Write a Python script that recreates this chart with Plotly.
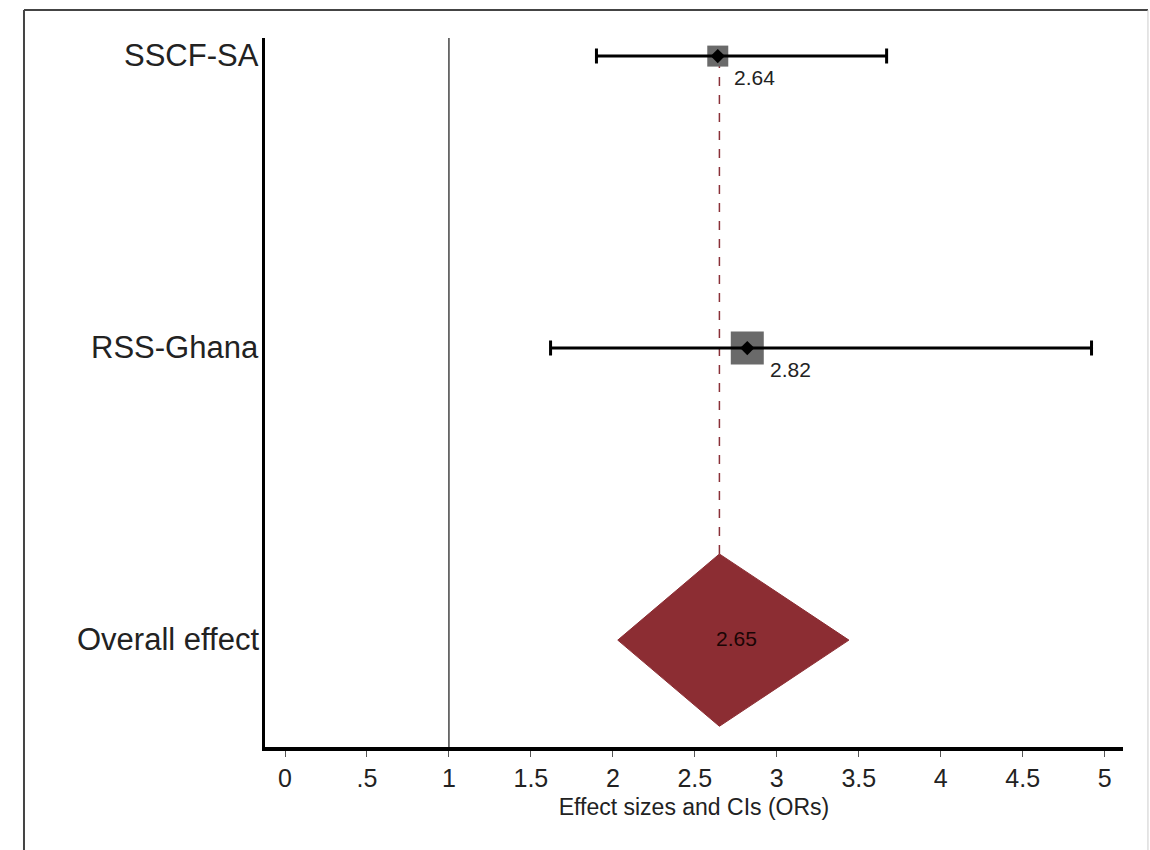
import plotly.graph_objects as go

# ---- data ----
studies = ["SSCF-SA", "RSS-Ghana"]
study_or = [2.64, 2.82]
study_lo = [1.90, 1.62]
study_hi = [3.67, 4.92]
study_weight_size = [21, 33]   # gray square sizes (weights)

overall_label = "Overall effect"
overall_or = 2.65
overall_lo = 2.03
overall_hi = 3.44

x_ticks = [0, 0.5, 1, 1.5, 2, 2.5, 3, 3.5, 4, 4.5, 5]
x_ticklabels = ["0", ".5", "1", "1.5", "2", "2.5", "3", "3.5", "4", "4.5", "5"]
x_title = "Effect sizes and CIs (ORs)"

# row positions
study_y = [2, 1]
overall_y = 0
diamond_half = 0.295

FONT = "Liberation Sans, Arial, sans-serif"
RED = "#8c2d33"

fig = go.Figure()

# gray weight squares
fig.add_trace(go.Scatter(
    x=study_or, y=study_y, mode="markers",
    marker=dict(symbol="square", size=study_weight_size, color="#6a6a6a",
                opacity=1, line=dict(width=0)),
    hoverinfo="skip", showlegend=False))

# CIs + point estimates
fig.add_trace(go.Scatter(
    x=study_or, y=study_y, mode="markers",
    marker=dict(symbol="diamond", size=11, color="black", opacity=1),
    error_x=dict(type="data", symmetric=False,
                 array=[h - o for h, o in zip(study_hi, study_or)],
                 arrayminus=[o - l for o, l in zip(study_or, study_lo)],
                 color="black", thickness=3, width=7.5),
    showlegend=False))

# overall diamond
fig.add_trace(go.Scatter(
    x=[overall_lo, overall_or, overall_hi, overall_or, overall_lo],
    y=[overall_y, overall_y + diamond_half, overall_y,
       overall_y - diamond_half, overall_y],
    mode="lines", fill="toself", fillcolor=RED,
    line=dict(color=RED, width=1), showlegend=False, hoverinfo="skip"))

# reference line at 1
fig.add_shape(type="line", x0=1, x1=1, y0=0, y1=1, xref="x", yref="paper",
              line=dict(color="#444444", width=1.5), layer="below")
# dashed overall line
fig.add_shape(type="line", x0=overall_or, x1=overall_or,
              y0=overall_y + diamond_half, y1=study_y[0], xref="x", yref="y",
              line=dict(color="#8a3038", width=1.5, dash="dash"), layer="below")

# row labels
for lab, y in zip(studies + [overall_label], study_y + [overall_y]):
    fig.add_annotation(x=0, xref="paper", y=y, yref="y", text=lab,
                       showarrow=False, xanchor="right", yanchor="middle",
                       xshift=-4, yshift=1,
                       font=dict(family=FONT, size=31, color="#222222"))

# value labels
for o, y, s in zip(study_or, study_y, study_weight_size):
    fig.add_annotation(x=o, y=y, text=f"{o:.2f}", showarrow=False,
                       xanchor="left", yanchor="middle",
                       xshift=s / 2 + 4, yshift=-21.5,
                       font=dict(family=FONT, size=21, color="#222222"))
fig.add_annotation(x=overall_or, y=overall_y, text=f"{overall_or:.2f}",
                   showarrow=False, xanchor="center", yanchor="middle",
                   xshift=17, yshift=2,
                   font=dict(family=FONT, size=21, color="#1a0505"))

# outer frame
fig.add_shape(type="line", xref="paper", yref="paper", x0=-0.2809, x1=1.0291,
              y0=1.0395, y1=1.0395, line=dict(color="#444444", width=2))
fig.add_shape(type="line", xref="paper", yref="paper", x0=-0.2809, x1=-0.2809,
              y0=1.0395, y1=-0.15, line=dict(color="#444444", width=2))
fig.add_shape(type="line", xref="paper", yref="paper", x0=1.0291, x1=1.0291,
              y0=1.0395, y1=-0.15, line=dict(color="#cccccc", width=1))

fig.update_layout(
    width=1150, height=850,
    margin=dict(l=265, r=27, t=38, b=103),
    paper_bgcolor="white", plot_bgcolor="white",
    font=dict(family=FONT, color="#222222"),
    xaxis=dict(range=[-0.122, 5.112], tickvals=x_ticks, ticktext=x_ticklabels,
               showgrid=False, zeroline=False, showline=True,
               linecolor="black", linewidth=4,
               ticks="outside", ticklen=6, tickwidth=1, tickcolor="#555555",
               tickfont=dict(size=25, family=FONT, color="#222222"),
               title=dict(text=x_title, standoff=9,
                          font=dict(size=23, family=FONT, color="#222222"))),
    yaxis=dict(range=[-0.366, 2.062], showticklabels=False,
               showgrid=False, zeroline=False, showline=True,
               linecolor="black", linewidth=3, ticks=""),
    showlegend=False,
)

fig.write_html("out.html")
